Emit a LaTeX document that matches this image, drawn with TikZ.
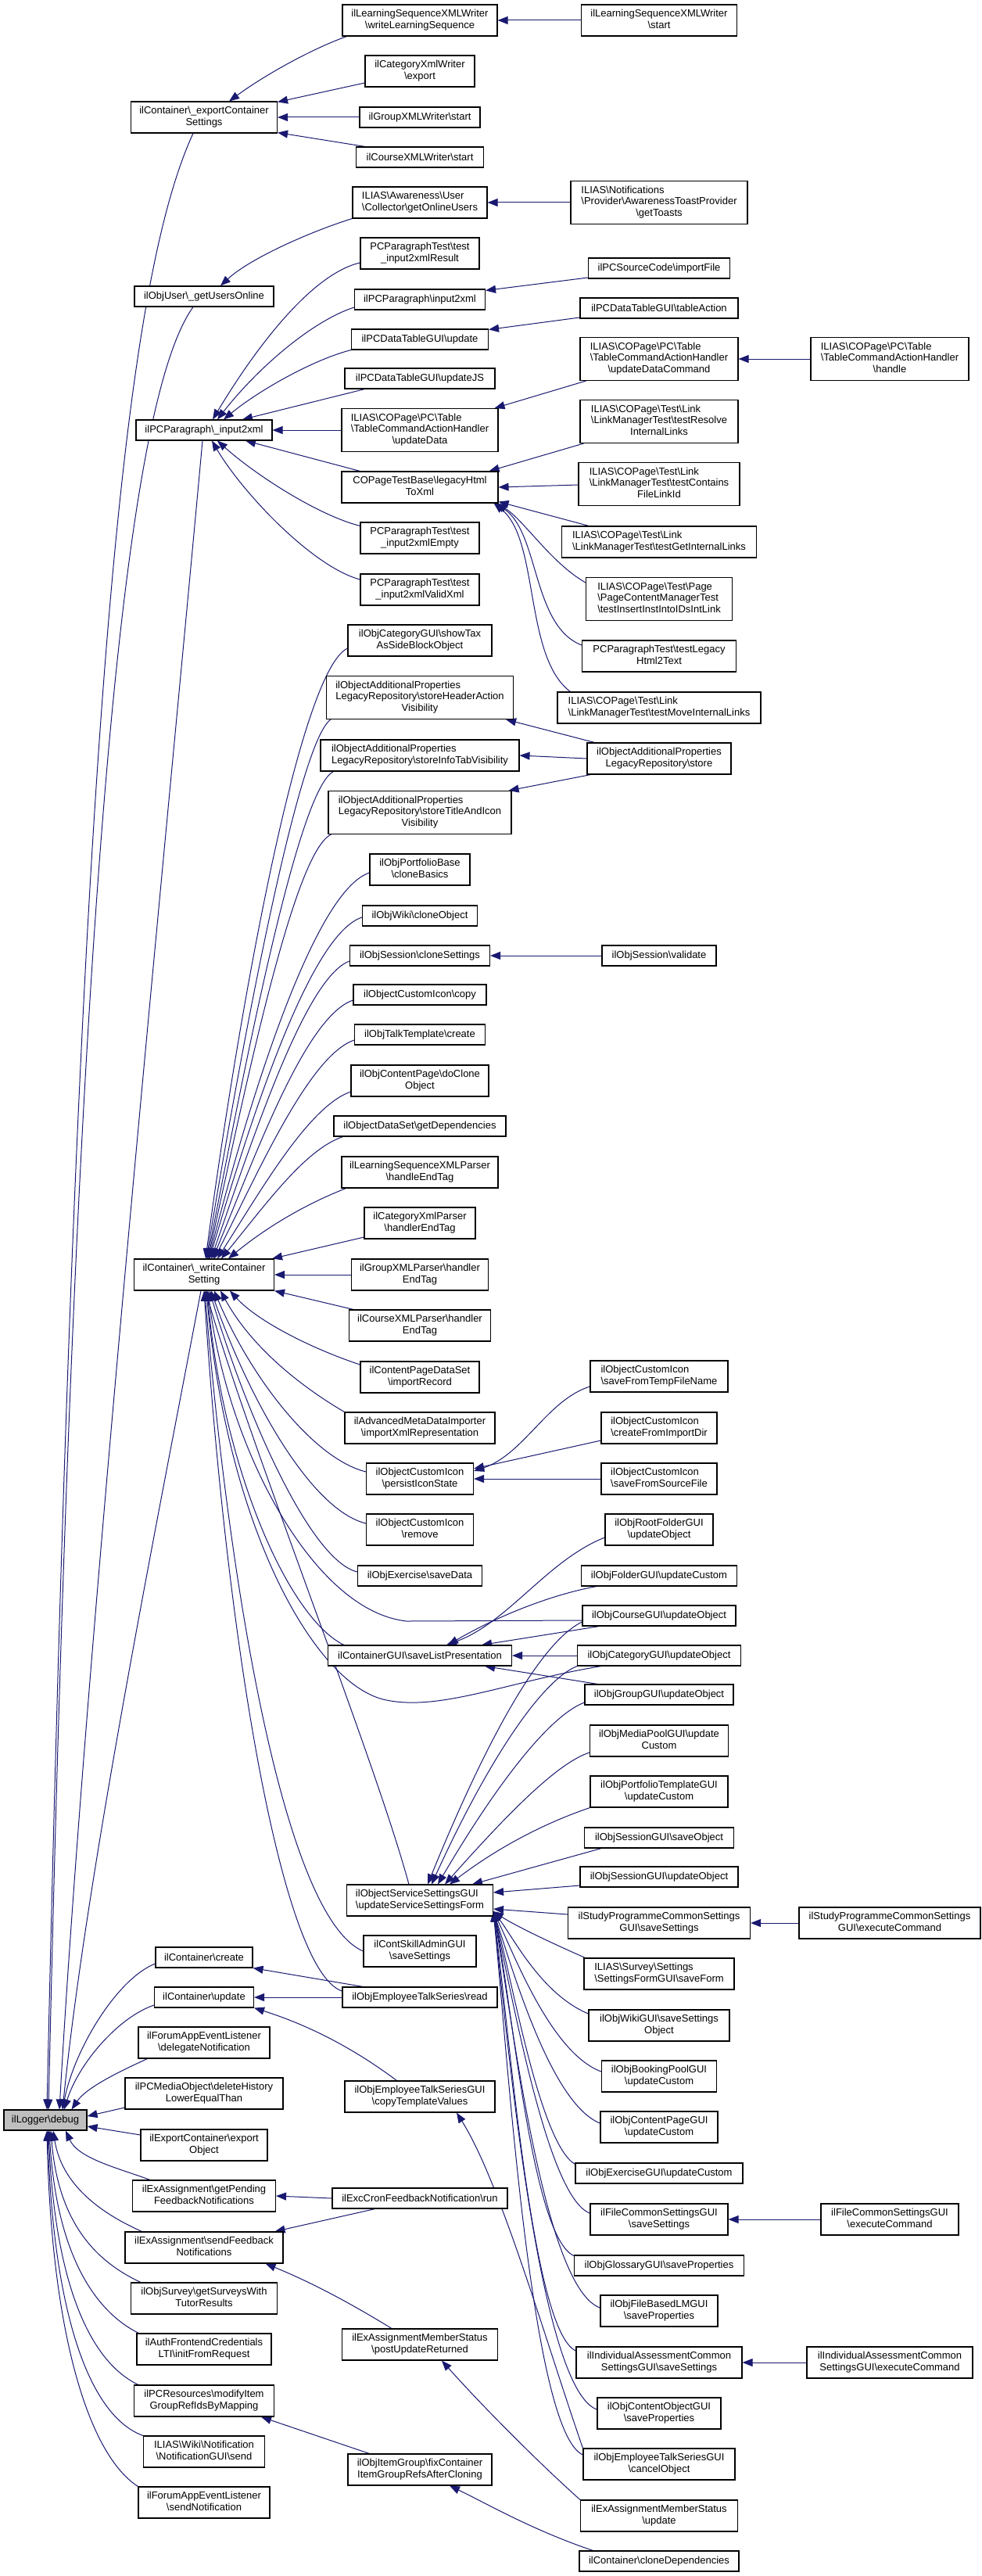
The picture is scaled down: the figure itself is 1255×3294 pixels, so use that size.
\documentclass[tikz,border=0pt]{standalone}
\usepackage{fontspec}
\setmainfont{Liberation Sans}
\usetikzlibrary{arrows.meta,calc}
\definecolor{edgeblue}{HTML}{191970}
\definecolor{rootgray}{HTML}{BFBFBF}
\newcommand{\bsl}{\textbackslash}
\newcommand{\twol}[2]{\begin{tabular}{@{}l@{}}#1\\\multicolumn{1}{@{}c@{}}{#2}\end{tabular}}
\newcommand{\threel}[3]{\begin{tabular}{@{}l@{}}#1\\#2\\\multicolumn{1}{@{}c@{}}{#3}\end{tabular}}
\newcommand{\nodefont}{\fontsize{13}{14.3}\selectfont}
\pgfdeclarelayer{bgpaper}
\pgfdeclarelayer{edges}
\pgfsetlayers{bgpaper,edges,main}
\tikzset{
  box/.style={draw=black, line width=1.1pt, fill=white, inner sep=0pt, font=\nodefont},
  o1/.style={box, minimum height=26pt},
  o2/.style={box, minimum height=40pt},
  o3/.style={box, minimum height=55pt},
  root/.style={o1, fill=rootgray},
  edge/.style={draw=edgeblue, line width=1pt, -{Triangle[length=13pt,width=10pt]}},
}
\begin{document}
\begin{tikzpicture}[x=1pt,y=-1pt]
\begin{pgfonlayer}{bgpaper}
\fill[white] (0,0) rectangle (1255,3294);
\end{pgfonlayer}
\useasboundingbox (0,0) rectangle (1255,3294);

% ---------- column 0 ----------
\node[root, minimum width=106pt] (L) at (58,2711) {ilLogger\bsl debug};

% ---------- column 1 ----------
\node[o2, minimum width=187pt] (ecs) at (261,150) {\twol{ilContainer\bsl\_exportContainer}{Settings}};
\node[o1, minimum width=178pt] (guo) at (261,379) {ilObjUser\bsl\_getUsersOnline};
\node[o1, minimum width=174pt] (pin) at (261,550) {ilPCParagraph\bsl\_input2xml};
\node[o2, minimum width=179pt] (wcs) at (261,1630) {\twol{ilContainer\bsl\_writeContainer}{Setting}};
\node[o1, minimum width=124pt] (ccr) at (261,2503) {ilContainer\bsl create};
\node[o1, minimum width=127pt] (cup) at (261,2554) {ilContainer\bsl update};
\node[o2, minimum width=168pt] (fdn) at (261,2612) {\twol{ilForumAppEventListener}{\bsl delegateNotification}};
\node[o2, minimum width=202pt] (pmo) at (261,2677) {\twol{ilPCMediaObject\bsl deleteHistory}{LowerEqualThan}};
\node[o2, minimum width=162pt] (eco) at (261,2743) {\twol{ilExportContainer\bsl export}{Object}};
\node[o2, minimum width=183pt] (gpf) at (261,2808) {\twol{ilExAssignment\bsl getPending}{FeedbackNotifications}};
\node[o2, minimum width=202pt] (sfn) at (261,2874) {\twol{ilExAssignment\bsl sendFeedback}{Notifications}};
\node[o2, minimum width=187pt] (gsw) at (261,2939) {\twol{ilObjSurvey\bsl getSurveysWith}{TutorResults}};
\node[o2, minimum width=172pt] (afc) at (261,3004) {\twol{ilAuthFrontendCredentials}{LTI\bsl initFromRequest}};
\node[o2, minimum width=179pt] (pcr) at (261,3070) {\twol{ilPCResources\bsl modifyItem}{GroupRefIdsByMapping}};
\node[o2, minimum width=155pt] (wns) at (261,3135) {\twol{ILIAS\bsl Wiki\bsl Notification}{\bsl NotificationGUI\bsl send}};
\node[o2, minimum width=168pt] (fsn) at (261,3200) {\twol{ilForumAppEventListener}{\bsl sendNotification}};

% ---------- column 2 ----------
\node[o2, minimum width=198pt] (lsw) at (537,26) {\twol{ilLearningSequenceXMLWriter}{\bsl writeLearningSequence}};
\node[o2, minimum width=140pt] (cxw) at (537,91) {\twol{ilCategoryXmlWriter}{\bsl export}};
\node[o1, minimum width=154pt] (gxw) at (537,150) {ilGroupXMLWriter\bsl start};
\node[o1, minimum width=163pt] (cxs) at (537,201) {ilCourseXMLWriter\bsl start};
\node[o2, minimum width=172pt] (gou) at (537,259) {\twol{ILIAS\bsl Awareness\bsl User}{\bsl Collector\bsl getOnlineUsers}};
\node[o2, minimum width=152pt] (ptr) at (537,324) {\twol{PCParagraphTest\bsl test}{\_input2xmlResult}};
\node[o1, minimum width=167pt] (ppi) at (537,383) {ilPCParagraph\bsl input2xml};
\node[o1, minimum width=175pt] (dtu) at (537,434) {ilPCDataTableGUI\bsl update};
\node[o1, minimum width=192pt] (dtj) at (537,484) {ilPCDataTableGUI\bsl updateJS};
\node[o3, minimum width=200pt] (tud) at (537,550) {\threel{ILIAS\bsl COPage\bsl PC\bsl Table}{\bsl TableCommandActionHandler}{\bsl updateData}};
\node[o2, minimum width=200pt] (lhx) at (537,623) {\twol{COPageTestBase\bsl legacyHtml}{ToXml}};
\node[o2, minimum width=152pt] (pte) at (537,688) {\twol{PCParagraphTest\bsl test}{\_input2xmlEmpty}};
\node[o2, minimum width=152pt] (ptv) at (537,754) {\twol{PCParagraphTest\bsl test}{\_input2xmlValidXml}};
\node[o2, minimum width=184pt] (stx) at (537,819) {\twol{ilObjCategoryGUI\bsl showTax}{AsSideBlockObject}};
\node[o3, minimum width=239pt] (shv) at (537,892) {\threel{ilObjectAdditionalProperties}{LegacyRepository\bsl storeHeaderAction}{Visibility}};
\node[o2, minimum width=254pt] (siv) at (537,966) {\twol{ilObjectAdditionalProperties}{LegacyRepository\bsl storeInfoTabVisibility}};
\node[o3, minimum width=234pt] (stv) at (537,1039) {\threel{ilObjectAdditionalProperties}{LegacyRepository\bsl storeTitleAndIcon}{Visibility}};
\node[o2, minimum width=128pt] (pcb) at (537,1112) {\twol{ilObjPortfolioBase}{\bsl cloneBasics}};
\node[o1, minimum width=147pt] (wco) at (537,1171) {ilObjWiki\bsl cloneObject};
\node[o1, minimum width=179pt] (scs) at (537,1222) {ilObjSession\bsl cloneSettings};
\node[o1, minimum width=170pt] (cic) at (537,1272) {ilObjectCustomIcon\bsl copy};
\node[o1, minimum width=167pt] (ttc) at (537,1323) {ilObjTalkTemplate\bsl create};
\node[o2, minimum width=176pt] (cpd) at (537,1382) {\twol{ilObjContentPage\bsl doClone}{Object}};
\node[o1, minimum width=220pt] (ods) at (537,1440) {ilObjectDataSet\bsl getDependencies};
\node[o2, minimum width=200pt] (lsp) at (537,1499) {\twol{ilLearningSequenceXMLParser}{\bsl handleEndTag}};
\node[o2, minimum width=142pt] (cxp) at (537,1564) {\twol{ilCategoryXmlParser}{\bsl handlerEndTag}};
\node[o2, minimum width=175pt] (gxp) at (537,1630) {\twol{ilGroupXMLParser\bsl handler}{EndTag}};
\node[o2, minimum width=181pt] (cop) at (537,1695) {\twol{ilCourseXMLParser\bsl handler}{EndTag}};
\node[o2, minimum width=152pt] (cpr) at (537,1761) {\twol{ilContentPageDataSet}{\bsl importRecord}};
\node[o2, minimum width=192pt] (amd) at (537,1826) {\twol{ilAdvancedMetaDataImporter}{\bsl importXmlRepresentation}};
\node[o2, minimum width=137pt] (pis) at (537,1891) {\twol{ilObjectCustomIcon}{\bsl persistIconState}};
\node[o2, minimum width=137pt] (cir) at (537,1956) {\twol{ilObjectCustomIcon}{\bsl remove}};
\node[o1, minimum width=159pt] (oes) at (537,2015) {ilObjExercise\bsl saveData};
\node[o1, minimum width=235pt] (slp) at (537,2117) {ilContainerGUI\bsl saveListPresentation};
\node[o2, minimum width=187pt] (uss) at (537,2430) {\twol{ilObjectServiceSettingsGUI}{\bsl updateServiceSettingsForm}};
\node[o2, minimum width=144pt] (csa) at (537,2495) {\twol{ilContSkillAdminGUI}{\bsl saveSettings}};
\node[o1, minimum width=198pt] (etr) at (537,2554) {ilObjEmployeeTalkSeries\bsl read};
\node[o2, minimum width=192pt] (ctv) at (537,2681) {\twol{ilObjEmployeeTalkSeriesGUI}{\bsl copyTemplateValues}};
\node[o1, minimum width=224pt] (cfn) at (537,2811) {ilExcCronFeedbackNotification\bsl run};
\node[o2, minimum width=199pt] (pur) at (537,2998) {\twol{ilExAssignmentMemberStatus}{\bsl postUpdateReturned}};
\node[o2, minimum width=184pt] (fcr) at (537,3158) {\twol{ilObjItemGroup\bsl fixContainer}{ItemGroupRefsAfterCloning}};

% ---------- column 3 ----------
\node[o2, minimum width=199pt] (lss) at (843,26) {\twol{ilLearningSequenceXMLWriter}{\bsl start}};
\node[o3, minimum width=226pt] (gts) at (843,259) {\threel{ILIAS\bsl Notifications}{\bsl Provider\bsl AwarenessToastProvider}{\bsl getToasts}};
\node[o1, minimum width=181pt] (sci) at (843,343) {ilPCSourceCode\bsl importFile};
\node[o1, minimum width=202pt] (dta) at (843,394) {ilPCDataTableGUI\bsl tableAction};
\node[o3, minimum width=202pt] (udc) at (843,459) {\threel{ILIAS\bsl COPage\bsl PC\bsl Table}{\bsl TableCommandActionHandler}{\bsl updateDataCommand}};
\node[o3, minimum width=202pt] (tri) at (843,539) {\threel{ILIAS\bsl COPage\bsl Test\bsl Link}{\bsl LinkManagerTest\bsl testResolve}{InternalLinks}};
\node[o3, minimum width=206pt] (tcf) at (843,619) {\threel{ILIAS\bsl COPage\bsl Test\bsl Link}{\bsl LinkManagerTest\bsl testContains}{FileLinkId}};
\node[o2, minimum width=249pt] (tgi) at (843,693) {\twol{ILIAS\bsl COPage\bsl Test\bsl Link}{\bsl LinkManagerTest\bsl testGetInternalLinks}};
\node[o3, minimum width=187pt] (tii) at (843,766) {\threel{ILIAS\bsl COPage\bsl Test\bsl Page}{\bsl PageContentManagerTest}{\bsl testInsertInstIntoIDsIntLink}};
\node[o2, minimum width=197pt] (tlh) at (843,839) {\twol{PCParagraphTest\bsl testLegacy}{Html2Text}};
\node[o2, minimum width=260pt] (tmi) at (843,905) {\twol{ILIAS\bsl COPage\bsl Test\bsl Link}{\bsl LinkManagerTest\bsl testMoveInternalLinks}};
\node[o2, minimum width=184pt] (aps) at (843,970) {\twol{ilObjectAdditionalProperties}{LegacyRepository\bsl store}};
\node[o1, minimum width=146pt] (osv) at (843,1222) {ilObjSession\bsl validate};
\node[o2, minimum width=176pt] (ctf) at (843,1760) {\twol{ilObjectCustomIcon}{\bsl saveFromTempFileName}};
\node[o2, minimum width=148pt] (cfi) at (843,1826) {\twol{ilObjectCustomIcon}{\bsl createFromImportDir}};
\node[o2, minimum width=148pt] (csf) at (843,1891) {\twol{ilObjectCustomIcon}{\bsl saveFromSourceFile}};
\node[o2, minimum width=138pt] (rfu) at (843,1956) {\twol{ilObjRootFolderGUI}{\bsl updateObject}};
\node[o1, minimum width=199pt] (fgu) at (843,2015) {ilObjFolderGUI\bsl updateCustom};
\node[o1, minimum width=196pt] (cgu) at (843,2066) {ilObjCourseGUI\bsl updateObject};
\node[o1, minimum width=209pt] (cau) at (843,2117) {ilObjCategoryGUI\bsl updateObject};
\node[o1, minimum width=190pt] (ggu) at (843,2167) {ilObjGroupGUI\bsl updateObject};
\node[o2, minimum width=177pt] (mpu) at (843,2226) {\twol{ilObjMediaPoolGUI\bsl update}{Custom}};
\node[o2, minimum width=176pt] (ptu) at (843,2291) {\twol{ilObjPortfolioTemplateGUI}{\bsl updateCustom}};
\node[o1, minimum width=191pt] (ssv) at (843,2350) {ilObjSessionGUI\bsl saveObject};
\node[o1, minimum width=202pt] (suo) at (843,2400) {ilObjSessionGUI\bsl updateObject};
\node[o2, minimum width=233pt] (sps) at (843,2459) {\twol{ilStudyProgrammeCommonSettings}{GUI\bsl saveSettings}};
\node[o2, minimum width=192pt] (ssf) at (843,2524) {\twol{ILIAS\bsl Survey\bsl Settings}{\bsl SettingsFormGUI\bsl saveForm}};
\node[o2, minimum width=180pt] (wss) at (843,2590) {\twol{ilObjWikiGUI\bsl saveSettings}{Object}};
\node[o2, minimum width=147pt] (bpu) at (843,2655) {\twol{ilObjBookingPoolGUI}{\bsl updateCustom}};
\node[o2, minimum width=150pt] (cpu) at (843,2720) {\twol{ilObjContentPageGUI}{\bsl updateCustom}};
\node[o1, minimum width=214pt] (exu) at (843,2779) {ilObjExerciseGUI\bsl updateCustom};
\node[o2, minimum width=176pt] (fcs) at (843,2838) {\twol{ilFileCommonSettingsGUI}{\bsl saveSettings}};
\node[o1, minimum width=217pt] (gsp) at (843,2897) {ilObjGlossaryGUI\bsl saveProperties};
\node[o2, minimum width=150pt] (fbl) at (843,2955) {\twol{ilObjFileBasedLMGUI}{\bsl saveProperties}};
\node[o2, minimum width=212pt] (ias) at (843,3021) {\twol{ilIndividualAssessmentCommon}{SettingsGUI\bsl saveSettings}};
\node[o2, minimum width=158pt] (cos) at (843,3086) {\twol{ilObjContentObjectGUI}{\bsl saveProperties}};
\node[o2, minimum width=194pt] (etc) at (843,3151) {\twol{ilObjEmployeeTalkSeriesGUI}{\bsl cancelObject}};
\node[o2, minimum width=201pt] (amu) at (843,3217) {\twol{ilExAssignmentMemberStatus}{\bsl update}};
\node[o1, minimum width=204pt] (ccd) at (843,3275) {ilContainer\bsl cloneDependencies};

% ---------- column 4 ----------
\node[o3, minimum width=202pt] (tch) at (1138,459) {\threel{ILIAS\bsl COPage\bsl PC\bsl Table}{\bsl TableCommandActionHandler}{\bsl handle}};
\node[o2, minimum width=232pt] (spe) at (1138,2459) {\twol{ilStudyProgrammeCommonSettings}{GUI\bsl executeCommand}};
\node[o2, minimum width=176pt] (fce) at (1138,2838) {\twol{ilFileCommonSettingsGUI}{\bsl executeCommand}};
\node[o2, minimum width=212pt] (iae) at (1138,3021) {\twol{ilIndividualAssessmentCommon}{SettingsGUI\bsl executeCommand}};

\begin{pgfonlayer}{edges}
% into exportContainerSettings
\draw[edge] (lss.west) -- (lsw.east);
\draw[edge] ($(lsw.south west)+(6,0)$) .. controls (400,62) and (340,95) .. ($(ecs.north east)+(-62,0)$);
\draw[edge] ($(cxw.west)+(0,15)$) -- ($(ecs.north east)+(0,1)$);
\draw[edge] (gxw.west) -- (ecs.east);
\draw[edge] ($(cxs.north west)+(12,0)$) -- ($(ecs.south east)+(0,-1)$);
% getUsersOnline
\draw[edge] (gts.west) -- (gou.east);
\draw[edge] (gou.south west) .. controls (400,295) and (320,330) .. ($(guo.north)+(21,0)$);
% input2xml
\draw[edge] ($(ptr.west)+(0,12)$) .. controls (400,350) and (330,440) .. ($(pin.north)+(11,0)$);
\draw[edge] ($(ppi.west)+(0,10)$) .. controls (400,410) and (330,470) .. ($(pin.north)+(17,0)$);
\draw[edge] (dtu.south west) .. controls (400,460) and (330,500) .. ($(pin.north)+(25,0)$);
\draw[edge] ($(dtj.south west)+(26,0)$) -- ($(pin.north)+(49,0)$);
\draw[edge] (tud.west) -- (pin.east);
\draw[edge] ($(lhx.north west)+(24,0)$) -- ($(pin.south)+(53,0)$);
\draw[edge] ($(pte.north west)+(0,5)$) .. controls (410,660) and (330,610) .. ($(pin.south)+(17,0)$);
\draw[edge] ($(ptv.west)+(0,-13)$) .. controls (400,725) and (310,630) .. ($(pin.south)+(10,0)$);
\draw[edge] ($(sci.west)+(0,12)$) -- ($(ppi.north east)+(0,2)$);
\draw[edge] ($(dta.west)+(0,12)$) -- ($(dtu.north east)+(0,1)$);
\draw[edge] ($(udc.south west)+(8,0)$) -- ($(tud.north east)+(-5,0)$);
\draw[edge] (tch.west) -- (udc.east);
% legacyHtmlToXml
\draw[edge] ($(tri.south west)+(5,0)$) -- ($(lhx.north east)+(-12,0)$);
\draw[edge] ($(tcf.west)+(0,1)$) -- (lhx.east);
\draw[edge] ($(tgi.north west)+(35,0)$) -- ($(lhx.south east)+(0,-2)$);
\draw[edge] ($(tii.west)+(0,-21)$) .. controls (705,720) and (670,665) .. ($(lhx.south east)+(-2,0)$);
\draw[edge] ($(tlh.west)+(0,-14)$) .. controls (680,800) and (690,680) .. ($(lhx.south east)+(-4,0)$);
\draw[edge] ($(tmi.north west)+(17,0)$) .. controls (670,840) and (690,690) .. ($(lhx.south east)+(-6,0)$);
% additional properties
\draw[edge] ($(aps.north west)+(10,0)$) -- ($(shv.south east)+(-10,0)$);
\draw[edge] (aps.west) -- (siv.east);
\draw[edge] ($(aps.south west)+(5,0)$) -- ($(stv.north east)+(-4,0)$);
\draw[edge] (osv.west) -- (scs.east);
% into writeContainerSetting from above
\draw[edge] ($(stx.west)+(0,10)$) .. controls (380,860) and (300,1330) .. ($(wcs.north)+(2,0)$);
\draw[edge] ($(shv.south west)+(6,0)$) .. controls (380,950) and (305,1360) .. ($(wcs.north)+(3,0)$);
\draw[edge] ($(siv.south west)+(17,0)$) .. controls (380,1010) and (310,1380) .. ($(wcs.north)+(4,0)$);
\draw[edge] ($(stv.south west)+(4,0)$) .. controls (375,1090) and (312,1400) .. ($(wcs.north)+(5,0)$);
\draw[edge] ($(pcb.west)+(0,4)$) .. controls (400,1140) and (315,1420) .. ($(wcs.north)+(6,0)$);
\draw[edge] ($(wco.west)+(0,2)$) .. controls (395,1195) and (318,1440) .. ($(wcs.north)+(7,0)$);
\draw[edge] ($(scs.west)+(0,7)$) .. controls (390,1250) and (322,1460) .. ($(wcs.north)+(9,0)$);
\draw[edge] ($(cic.west)+(0,7)$) .. controls (390,1300) and (326,1480) .. ($(wcs.north)+(11,0)$);
\draw[edge] ($(ttc.west)+(0,7)$) .. controls (395,1350) and (330,1500) .. ($(wcs.north)+(13,0)$);
\draw[edge] ($(cpd.west)+(0,14)$) .. controls (395,1415) and (335,1520) .. ($(wcs.north)+(17,0)$);
\draw[edge] ($(ods.south west)+(12,0)$) .. controls (390,1470) and (340,1540) .. ($(wcs.north)+(22,0)$);
\draw[edge] ($(lsp.south west)+(6,0)$) .. controls (390,1540) and (340,1570) .. ($(wcs.north)+(31,0)$);
\draw[edge] ($(cxp.west)+(0,18)$) -- ($(wcs.north east)+(-3,0)$);
\draw[edge] (gxp.west) -- (wcs.east);
% into writeContainerSetting from below
\draw[edge] ($(cop.north west)+(6,0)$) -- (wcs.south east);
\draw[edge] ($(cpr.west)+(0,-16)$) .. controls (400,1725) and (330,1690) .. ($(wcs.south)+(33,0)$);
\draw[edge] (amd.north west) .. controls (380,1770) and (320,1720) .. ($(wcs.south)+(21,0)$);
\draw[edge] ($(pis.west)+(0,-9)$) .. controls (400,1865) and (320,1760) .. ($(wcs.south)+(13,0)$);
\draw[edge] ($(cir.west)+(0,-8)$) .. controls (395,1930) and (315,1780) .. ($(wcs.south)+(9,0)$);
\draw[edge] ($(oes.west)+(0,-5)$) .. controls (395,1995) and (312,1800) .. ($(wcs.south)+(7,0)$);
\draw[edge] ($(cgu.west)+(0,6)$) -- (520,2073) .. controls (400,2060) and (290,1850) .. ($(wcs.south)+(5,0)$);
\draw[edge] ($(slp.north west)+(21,0)$) .. controls (370,2070) and (285,1880) .. ($(wcs.south)+(4,0)$);
\draw[edge] ($(cau.south west)+(31,0)$) .. controls (650,2150) and (560,2190) .. (490,2173) .. controls (400,2150) and (290,1950) .. ($(wcs.south)+(3,0)$);
\draw[edge] ($(uss.north west)+(80,0)$) .. controls (480,2250) and (320,1850) .. ($(wcs.south)+(2,0)$);
\draw[edge] (csa.west) .. controls (360,2450) and (290,2000) .. ($(wcs.south)+(1,0)$);
\draw[edge] ($(etr.west)+(0,-8)$) .. controls (360,2520) and (290,2100) .. (wcs.south);
% persistIconState
\draw[edge] ($(ctf.west)+(0,13)$) .. controls (700,1790) and (670,1860) .. ($(pis.east)+(0,-10)$);
\draw[edge] ($(cfi.west)+(0,16)$) -- ($(pis.east)+(0,-13)$);
\draw[edge] (csf.west) -- (pis.east);
% saveListPresentation
\draw[edge] ($(rfu.west)+(0,10)$) .. controls (700,1995) and (650,2075) .. ($(slp.north)+(34,0)$);
\draw[edge] ($(fgu.south west)+(20,0)$) .. controls (700,2040) and (630,2070) .. ($(slp.north)+(36,0)$);
\draw[edge] ($(cgu.south west)+(22,0)$) -- ($(slp.north east)+(-39,0)$);
\draw[edge] (cau.west) -- (slp.east);
\draw[edge] ($(ggu.north west)+(17,0)$) -- ($(slp.south east)+(-35,0)$);
% updateServiceSettingsForm
\draw[edge] ($(cgu.west)+(0,8)$) .. controls (690,2100) and (620,2230) .. ($(uss.north)+(10,0)$);
\draw[edge] (cau.south west) .. controls (690,2150) and (620,2260) .. ($(uss.north)+(15,0)$);
\draw[edge] ($(ggu.west)+(0,10)$) .. controls (700,2195) and (630,2290) .. ($(uss.north)+(23,0)$);
\draw[edge] ($(mpu.west)+(0,15)$) .. controls (710,2255) and (640,2330) .. ($(uss.north)+(32,0)$);
\draw[edge] (ptu.south west) .. controls (700,2330) and (640,2360) .. ($(uss.north)+(38,0)$);
\draw[edge] ($(ssv.south west)+(22,0)$) -- ($(uss.north east)+(-27,0)$);
\draw[edge] ($(suo.west)+(0,11)$) -- ($(uss.east)+(0,-10)$);
\draw[edge] ($(sps.west)+(0,-11)$) -- ($(uss.east)+(0,11)$);
\draw[edge] ($(ssf.north west)+(2,0)$) .. controls (695,2480) and (655,2460) .. ($(uss.east)+(0,14)$);
\draw[edge] ($(wss.west)+(0,-15)$) .. controls (693,2550) and (658,2480) .. ($(uss.east)+(0,14)$);
\draw[edge] ($(bpu.west)+(0,-6)$) .. controls (705,2625) and (658,2500) .. ($(uss.east)+(0,14)$);
\draw[edge] ($(cpu.west)+(0,-5)$) .. controls (705,2690) and (656,2520) .. ($(uss.east)+(0,14)$);
\draw[edge] ($(exu.north west)+(0,2)$) .. controls (690,2740) and (655,2530) .. ($(uss.east)+(0,14)$);
\draw[edge] ($(fcs.west)+(0,-8)$) .. controls (700,2810) and (655,2550) .. ($(uss.east)+(0,14)$);
\draw[edge] ($(gsp.north west)+(0,1)$) .. controls (680,2860) and (655,2560) .. ($(uss.east)+(0,14)$);
\draw[edge] ($(fbl.west)+(0,-4)$) .. controls (695,2925) and (655,2580) .. ($(uss.east)+(0,14)$);
\draw[edge] ($(ias.west)+(0,-15)$) .. controls (680,2980) and (652,2600) .. ($(uss.east)+(0,14)$);
\draw[edge] ($(cos.west)+(0,-5)$) .. controls (690,3055) and (650,2620) .. ($(uss.east)+(0,14)$);
\draw[edge] ($(etc.west)+(0,-12)$) .. controls (680,3110) and (650,2640) .. ($(uss.east)+(0,14)$);
\draw[edge] (spe.west) -- (sps.east);
\draw[edge] (fce.west) -- (fcs.east);
\draw[edge] (iae.west) -- (ias.east);
% container create/update and others
\draw[edge] ($(etr.north west)+(27,0)$) -- (ccr.south east);
\draw[edge] (etr.west) -- (cup.east);
\draw[edge] ($(ctv.north west)+(67,0)$) .. controls (440,2610) and (380,2585) .. (cup.south east);
\draw[edge] (etc.north west) .. controls (700,3000) and (640,2790) .. ($(ctv.south)+(47,0)$);
\draw[edge] (cfn.west) -- (gpf.east);
\draw[edge] ($(cfn.south west)+(55,0)$) -- ($(sfn.north east)+(-11,0)$);
\draw[edge] ($(pur.north west)+(64,0)$) .. controls (440,2940) and (390,2915) .. ($(sfn.south east)+(-23,0)$);
\draw[edge] (amu.north west) .. controls (690,3150) and (620,3080) .. ($(pur.south)+(28,0)$);
\draw[edge] ($(ccd.north west)+(18,0)$) .. controls (680,3235) and (620,3200) .. ($(fcr.south)+(38,0)$);
\draw[edge] ($(fcr.north west)+(28,0)$) -- ($(pcr.south east)+(-17,0)$);
% into ilLogger\debug
\draw[edge] ($(ecs.south)+(-14,0)$) .. controls (160,360) and (100,900) .. ($(L.north)+(2,0)$);
\draw[edge] ($(guo.south)+(-14,0)$) .. controls (170,500) and (100,1000) .. ($(L.north)+(4,0)$);
\draw[edge] ($(pin.south)+(-2,0)$) .. controls (210,1100) and (110,2100) .. ($(L.north)+(18,0)$);
\draw[edge] ($(wcs.south)+(-4,0)$) .. controls (200,1950) and (110,2400) .. ($(L.north)+(22,0)$);
\draw[edge] ($(ccr.west)+(0,8)$) .. controls (150,2530) and (95,2620) .. ($(L.north)+(22,0)$);
\draw[edge] ($(cup.west)+(0,10)$) .. controls (150,2580) and (100,2640) .. ($(L.north)+(24,0)$);
\draw[edge] ($(fdn.south west)+(12,0)$) .. controls (150,2650) and (110,2670) .. ($(L.north east)+(-20,0)$);
\draw[edge] ($(pmo.west)+(0,18)$) -- ($(L.east)+(0,-5)$);
\draw[edge] ($(eco.west)+(0,-13)$) -- ($(L.east)+(0,8)$);
\draw[edge] ($(gpf.north west)+(23,0)$) .. controls (150,2772) and (100,2760) .. ($(L.south)+(26,0)$);
\draw[edge] ($(sfn.north west)+(22,0)$) .. controls (140,2835) and (80,2800) .. ($(L.south)+(10,0)$);
\draw[edge] ($(gsw.north west)+(13,0)$) .. controls (130,2895) and (75,2850) .. ($(L.south)+(7,0)$);
\draw[edge] ($(afc.north west)+(3,0)$) .. controls (120,2955) and (72,2880) .. ($(L.south)+(5,0)$);
\draw[edge] ($(pcr.north west)+(6,0)$) .. controls (115,3020) and (70,2920) .. ($(L.south)+(4,0)$);
\draw[edge] (wns.north west) .. controls (115,3090) and (68,2960) .. ($(L.south)+(3,0)$);
\draw[edge] (fsn.north west) .. controls (115,3140) and (66,2990) .. ($(L.south)+(2,0)$);
\end{pgfonlayer}
\end{tikzpicture}
\end{document}
